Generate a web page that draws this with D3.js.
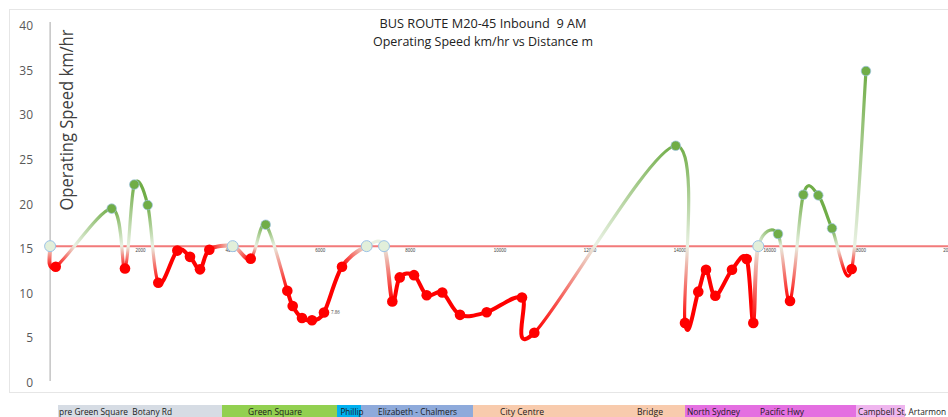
<!DOCTYPE html>
<html>
<head>
<meta charset="utf-8">
<script src="https://cdn.jsdelivr.net/npm/d3@7"></script>
<style>
  body { margin: 0; background: #fff; }
  svg { display: block; font-family: "Open Sans", "Liberation Sans", sans-serif; }
  .pre { white-space: pre; }
</style>
</head>
<body>
<script>
const W = 948, H = 417;

// distance along route (m) and operating speed (km/hr)
const distance = [0, 125, 1370, 1666, 1873, 2171, 2407, 2830, 3112, 3335, 3542, 4062, 4463, 4796,
  5277, 5397, 5604, 5826, 6093, 6494, 7043, 7428, 7613, 7778, 8096, 8378, 8725, 9119, 9713,
  10498, 10772, 13918, 14124, 14420, 14592, 14799, 15170, 15497, 15644, 15755, 16194, 16461,
  16757, 17090, 17395, 17833, 18151];
const speed = [15.3, 13.0, 19.5, 12.8, 22.2, 19.9, 11.2, 14.8, 14.1, 12.7, 14.9, 15.3, 13.9, 17.7,
  10.3, 8.6, 7.25, 7.0, 7.86, 13.0, 15.3, 15.3, 9.1, 11.8, 12.05, 9.8, 10.1, 7.6, 7.9,
  9.55, 5.6, 26.55, 6.7, 10.2, 12.66, 9.75, 12.66, 13.86, 6.7, 15.3, 16.66, 9.15,
  21.06, 20.99, 17.3, 12.74, 34.92];
const targetSpeed = 15.3;
const labelledPoint = 18; // the "7.86" label

const yTicks = [0, 5, 10, 15, 20, 25, 30, 35, 40];
const distTicks = [2000, 4000, 6000, 8000, 10000, 12000, 14000, 16000, 18000, 20000];

// route sections along the bottom strip
const sectionStart = [176, 3824, 6383, 6917, 9408, 14125, 17929];
const sectionEnd   = [3824, 6383, 6917, 9408, 14125, 17929, 19019];
const sectionColor = ["#d6dce4", "#92d050", "#00b0f0", "#8eaadb", "#f8cbad", "#e46fe1", "#efb5ee"];
const sectionLabels = ["pre Green Square  Botany Rd", "Green Square", "Phillip", "Elizabeth - Chalmers",
  "City Centre", "Bridge", "North Sydney", "Pacific Hwy", "Campbell St, Artarmon"];
const sectionLabelAt = [200, 4405, 6460, 7295, 10010, 13057, 14169, 15791, 17973];
const sectionLabelLen = [113, 54, 23, 79, 44, 26, 53, 44, 88];

const svg = d3.select("body").append("svg").attr("width", W).attr("height", H);
const defs = svg.append("defs");

const x = d3.scaleLinear().domain([0, 20000]).range([50.1, 949.1]);
const y = d3.scaleLinear().domain([0, 40]).range([382.7, 25.7]);

// chart frame
svg.append("rect").attr("x", 9.5).attr("y", 9.5).attr("width", 950).attr("height", 383)
  .attr("fill", "none").attr("stroke", "#e6e6e6");

// title
svg.append("text").attr("class", "pre").attr("x", 483).attr("y", 28).attr("text-anchor", "middle")
  .attr("font-size", 12.5).attr("fill", "#222").attr("textLength", 207).attr("lengthAdjust", "spacingAndGlyphs")
  .text("BUS ROUTE M20-45 Inbound  9 AM");
svg.append("text").attr("x", 483).attr("y", 45.5).attr("text-anchor", "middle")
  .attr("font-size", 12.5).attr("fill", "#222").attr("textLength", 220).attr("lengthAdjust", "spacingAndGlyphs")
  .text("Operating Speed km/hr vs Distance m");

// y axis
const yAxis = svg.append("g").attr("transform", `translate(${x(0)},0)`)
  .call(d3.axisLeft(y).tickValues(yTicks).tickSize(0).tickPadding(17));
yAxis.select(".domain").remove();
yAxis.selectAll("text").attr("font-size", 12).attr("fill", "#595959")
  .attr("font-family", "'Open Sans', sans-serif");
svg.append("line").attr("x1", x(0)).attr("x2", x(0)).attr("y1", 22).attr("y2", 381)
  .attr("stroke", "#a6a6a6").attr("stroke-width", 1);

svg.append("text").attr("transform", `translate(73,120) rotate(-90)`)
  .attr("text-anchor", "middle").attr("font-size", 18).attr("fill", "#404040")
  .attr("textLength", 181).attr("lengthAdjust", "spacingAndGlyphs")
  .text("Operating Speed km/hr");

// target speed line
svg.append("line").attr("x1", x(0)).attr("x2", W).attr("y1", y(targetSpeed)).attr("y2", y(targetSpeed))
  .attr("stroke", "#f27a7a").attr("stroke-width", 2);

// tiny distance labels just under the target line
const xAxis = svg.append("g").attr("transform", `translate(0,${y(targetSpeed)})`)
  .call(d3.axisBottom(x).tickValues(distTicks).tickSize(0).tickPadding(3).tickFormat(d3.format("d")));
xAxis.select(".domain").remove();
xAxis.selectAll("text").attr("font-size", 4.5).attr("fill", "#444");

// speed line, segment by segment with a gradient through the target speed
const pts = distance.map((d, i) => [x(d), y(speed[i]), speed[i]]);
const GREEN = "#70ad47", RED = "#ff0000", PALE = "#e9f1e3";
const cls = v => Math.abs(v - targetSpeed) < 0.1 ? PALE : (v > targetSpeed ? GREEN : RED);

const lineG = svg.append("g");
for (let i = 0; i < pts.length - 1; i++) {
  const p0 = pts[Math.max(i - 1, 0)], p1 = pts[i], p2 = pts[i + 1], p3 = pts[Math.min(i + 2, pts.length - 1)];
  const c1 = [p1[0] + (p2[0] - p0[0]) / 6, p1[1] + (p2[1] - p0[1]) / 6];
  const c2 = [p2[0] - (p3[0] - p1[0]) / 6, p2[1] - (p3[1] - p1[1]) / 6];
  const a = cls(p1[2]), b = cls(p2[2]);
  const grad = defs.append("linearGradient").attr("id", "g" + i)
    .attr("gradientUnits", "userSpaceOnUse")
    .attr("x1", p1[0]).attr("y1", p1[1]).attr("x2", p2[0]).attr("y2", p2[1] + 0.01);
  grad.append("stop").attr("offset", 0).attr("stop-color", a);
  if (a !== b && a !== PALE && b !== PALE) {
    const t = (targetSpeed - p1[2]) / (p2[2] - p1[2]);
    grad.append("stop").attr("offset", t).attr("stop-color", PALE);
  }
  grad.append("stop").attr("offset", 1).attr("stop-color", b);
  const both = [a, b];
  const w = both.includes(RED) && !both.includes(GREEN) ? 4 : 3.2;
  lineG.append("path")
    .attr("d", `M${p1[0]},${p1[1]}C${c1[0]},${c1[1]} ${c2[0]},${c2[1]} ${p2[0]},${p2[1]}`)
    .attr("fill", "none").attr("stroke", `url(#g${i})`).attr("stroke-width", w)
    .attr("stroke-linecap", "round");
}

// markers
svg.append("g").selectAll("circle").data(pts).join("circle")
  .attr("cx", d => d[0]).attr("cy", d => d[1])
  .attr("r", d => cls(d[2]) === PALE ? 5.5 : (cls(d[2]) === RED ? 5.3 : 4.8))
  .attr("fill", d => cls(d[2]) === PALE ? "#e2efda" : cls(d[2]))
  .attr("stroke", d => cls(d[2]) === RED ? "none" : "#9dc3e6")
  .attr("stroke-width", d => cls(d[2]) === PALE ? 1 : 0.7);

svg.append("text").attr("x", x(distance[labelledPoint]) + 7).attr("y", y(speed[labelledPoint]) + 1.5)
  .attr("font-size", 4.5).attr("fill", "#444").text(speed[labelledPoint].toFixed(2));

// route section strip
const strip = svg.append("g");
strip.selectAll("rect").data(sectionStart).join("rect")
  .attr("x", (d, i) => x(d)).attr("width", (d, i) => x(sectionEnd[i]) - x(d))
  .attr("y", 405).attr("height", 12)
  .attr("fill", (d, i) => sectionColor[i]);
strip.selectAll("text").data(sectionLabels).join("text")
  .attr("class", "pre")
  .attr("x", (d, i) => x(sectionLabelAt[i])).attr("y", 414.5)
  .attr("font-size", 9.5).attr("fill", "#1a1a1a")
  .attr("textLength", (d, i) => sectionLabelLen[i]).attr("lengthAdjust", "spacingAndGlyphs")
  .text(d => d);
</script>
</body>
</html>
